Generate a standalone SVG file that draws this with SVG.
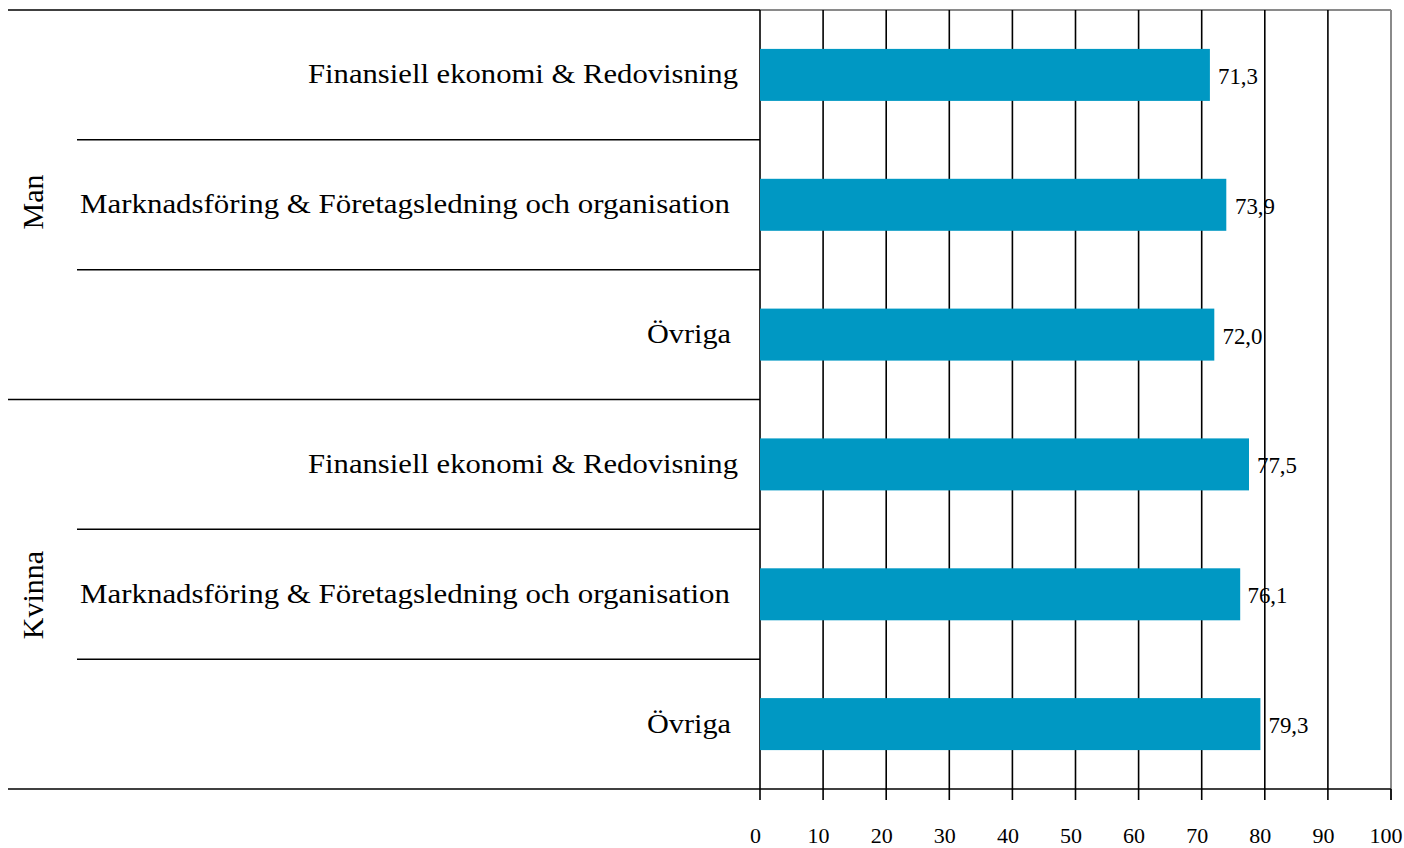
<svg xmlns="http://www.w3.org/2000/svg" width="1404" height="848" viewBox="0 0 1404 848">
<style>
.bg{fill:#ffffff}
.grid{stroke:#000000;stroke-width:1.6;fill:none}
.frame{stroke:#8a8a8a;stroke-width:2;fill:none}
.sep{stroke:#000000;stroke-width:1.6;fill:none}
.bar{fill:#0098c3}
.cat{font-family:"Liberation Serif","Times New Roman",serif;font-size:28px;fill:#000000}
.grp{font-family:"Liberation Serif","Times New Roman",serif;font-size:30px;fill:#000000}
.val{font-family:"Liberation Serif","Times New Roman",serif;font-size:24px;fill:#000000}
.tick{font-family:"Liberation Serif","Times New Roman",serif;font-size:22px;fill:#000000;text-anchor:middle}
</style>
<rect class="bg" x="0" y="0" width="1404" height="848"/>
<g id="frame">
<line class="frame" x1="760" y1="10" x2="1391" y2="10"/>
<line class="frame" x1="1391" y1="10" x2="1391" y2="800"/>
</g>
<g id="gridlines">
<line class="grid" x1="823.1" y1="10" x2="823.1" y2="800"/>
<line class="grid" x1="886.2" y1="10" x2="886.2" y2="800"/>
<line class="grid" x1="949.3" y1="10" x2="949.3" y2="800"/>
<line class="grid" x1="1012.4" y1="10" x2="1012.4" y2="800"/>
<line class="grid" x1="1075.5" y1="10" x2="1075.5" y2="800"/>
<line class="grid" x1="1138.6" y1="10" x2="1138.6" y2="800"/>
<line class="grid" x1="1201.7" y1="10" x2="1201.7" y2="800"/>
<line class="grid" x1="1264.8" y1="10" x2="1264.8" y2="800"/>
<line class="grid" x1="1327.9" y1="10" x2="1327.9" y2="800"/>
</g>
<g id="separators">
<line class="sep" x1="8" y1="10" x2="760" y2="10"/>
<line class="sep" x1="77" y1="139.8" x2="760" y2="139.8"/>
<line class="sep" x1="77" y1="269.7" x2="760" y2="269.7"/>
<line class="sep" x1="8" y1="399.5" x2="760" y2="399.5"/>
<line class="sep" x1="77" y1="529.3" x2="760" y2="529.3"/>
<line class="sep" x1="77" y1="659.2" x2="760" y2="659.2"/>
<line class="sep" x1="8" y1="789" x2="1391" y2="789"/>
<line class="sep" x1="760" y1="10" x2="760" y2="800"/>
<line class="grid" x1="1391" y1="789" x2="1391" y2="800"/>
</g>
<g id="row-man-finansiell">
<rect class="bar" x="760" y="48.9" width="449.9" height="52"/>
<text class="cat" x="308" y="83.4" textLength="430" lengthAdjust="spacingAndGlyphs">Finansiell ekonomi &amp; Redovisning</text>
<text class="val" x="1218" y="83.9" textLength="40" lengthAdjust="spacingAndGlyphs">71,3</text>
</g>
<g id="row-man-marknad">
<rect class="bar" x="760" y="178.8" width="466.3" height="52"/>
<text class="cat" x="80" y="213.3" textLength="650" lengthAdjust="spacingAndGlyphs">Marknadsföring &amp; Företagsledning och organisation</text>
<text class="val" x="1235" y="213.8" textLength="40" lengthAdjust="spacingAndGlyphs">73,9</text>
</g>
<g id="row-man-ovriga">
<rect class="bar" x="760" y="308.6" width="454.3" height="52"/>
<text class="cat" x="647" y="343.1" textLength="84" lengthAdjust="spacingAndGlyphs">Övriga</text>
<text class="val" x="1222.5" y="343.6" textLength="40" lengthAdjust="spacingAndGlyphs">72,0</text>
</g>
<g id="row-kvinna-finansiell">
<rect class="bar" x="760" y="438.4" width="489" height="52"/>
<text class="cat" x="308" y="472.9" textLength="430" lengthAdjust="spacingAndGlyphs">Finansiell ekonomi &amp; Redovisning</text>
<text class="val" x="1257" y="473.4" textLength="40" lengthAdjust="spacingAndGlyphs">77,5</text>
</g>
<g id="row-kvinna-marknad">
<rect class="bar" x="760" y="568.3" width="480.2" height="52"/>
<text class="cat" x="80" y="602.8" textLength="650" lengthAdjust="spacingAndGlyphs">Marknadsföring &amp; Företagsledning och organisation</text>
<text class="val" x="1247.5" y="603.3" textLength="40" lengthAdjust="spacingAndGlyphs">76,1</text>
</g>
<g id="row-kvinna-ovriga">
<rect class="bar" x="760" y="698.1" width="500.4" height="52"/>
<text class="cat" x="647" y="732.6" textLength="84" lengthAdjust="spacingAndGlyphs">Övriga</text>
<text class="val" x="1268.5" y="733.1" textLength="40" lengthAdjust="spacingAndGlyphs">79,3</text>
</g>
<g id="group-man">
<text class="grp" transform="translate(43,202) rotate(-90)" text-anchor="middle">Man</text>
</g>
<g id="group-kvinna">
<text class="grp" transform="translate(42.5,595) rotate(-90)" text-anchor="middle">Kvinna</text>
</g>
<g id="axis-labels">
<text class="tick" x="755.5" y="843">0</text>
<text class="tick" x="818.6" y="843">10</text>
<text class="tick" x="881.7" y="843">20</text>
<text class="tick" x="944.8" y="843">30</text>
<text class="tick" x="1007.9" y="843">40</text>
<text class="tick" x="1071" y="843">50</text>
<text class="tick" x="1134.1" y="843">60</text>
<text class="tick" x="1197.2" y="843">70</text>
<text class="tick" x="1260.3" y="843">80</text>
<text class="tick" x="1323.4" y="843">90</text>
<text class="tick" x="1386" y="843">100</text>
</g>
</svg>
